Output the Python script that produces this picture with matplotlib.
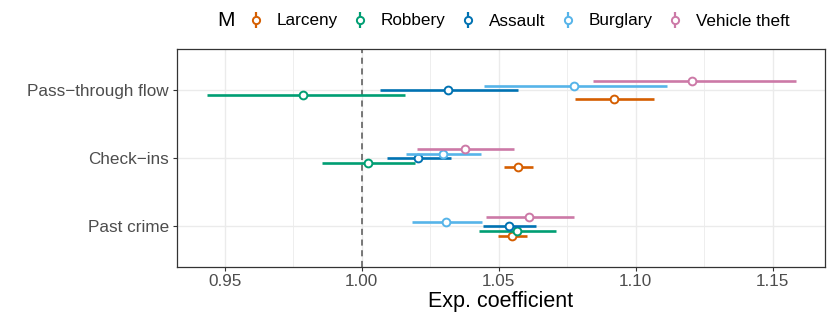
import numpy as np
import matplotlib
matplotlib.use("Agg")
from matplotlib import pyplot as plt
from matplotlib.lines import Line2D
from matplotlib.legend_handler import HandlerTuple

plt.rcParams['font.family'] = ['Liberation Sans', 'DejaVu Sans']

# data
categories = ["Past crime", "Check\u2212ins", "Pass\u2212through flow"]
crimes = ["Larceny", "Robbery", "Assault", "Burglary", "Vehicle theft"]
colors = ["#D55E00", "#009E73", "#0072B2", "#56B4E9", "#CC79A7"]

# estimates per crime, in category order (past crime, check-ins, pass-through)
larceny_est = [1.0550, 1.0570, 1.0920]
larceny_lo = [1.0497, 1.0518, 1.0777]
larceny_hi = [1.0604, 1.0627, 1.1068]

robbery_est = [1.0567, 1.0023, 0.9787]
robbery_lo = [1.0429, 0.9854, 0.9434]
robbery_hi = [1.0710, 1.0195, 1.0158]

assault_est = [1.0538, 1.0207, 1.0314]
assault_lo = [1.0443, 1.0092, 1.0066]
assault_hi = [1.0636, 1.0325, 1.0569]

burglary_est = [1.0308, 1.0296, 1.0774]
burglary_lo = [1.0182, 1.0161, 1.0445]
burglary_hi = [1.0440, 1.0434, 1.1116]

vehicle_est = [1.0612, 1.0376, 1.1205]
vehicle_lo = [1.0452, 1.0201, 1.0843]
vehicle_hi = [1.0774, 1.0556, 1.1584]

est = [larceny_est, robbery_est, assault_est, burglary_est, vehicle_est]
lo = [larceny_lo, robbery_lo, assault_lo, burglary_lo, vehicle_lo]
hi = [larceny_hi, robbery_hi, assault_hi, burglary_hi, vehicle_hi]

W, H = 830, 316
fig = plt.figure(figsize=(W / 100, H / 100), dpi=100)
ax = fig.add_axes([176.7 / W, 1 - 266.7 / H, (825 - 176.7) / W, (266.7 - 49.3) / H])

y = np.arange(1, len(categories) + 1)
dodge = 0.067  # vertical offset between crime types

# grid like theme_bw
for v in np.arange(0.925, 1.176, 0.025):
    major = abs(round(v / 0.05) * 0.05 - v) < 1e-9
    ax.axvline(v, color="#EBEBEB", lw=1.0 if major else 0.6, zorder=0)
for yy in y:
    ax.axhline(yy, color="#EBEBEB", lw=1.0, zorder=0)

ax.axvline(1.0, color="#555555", lw=1.1, ls=(0, (4, 3)), zorder=1)

for i, crime in enumerate(crimes):
    yy = y + (i - 2) * dodge
    ax.hlines(yy, lo[i], hi[i], color=colors[i], lw=1.9, zorder=2 + i)
    ax.plot(est[i], yy, 'o', ms=5.6, mfc='white', mec=colors[i], mew=1.4,
            zorder=2 + i)

ax.set_xlim(0.9325, 1.1691)
ax.set_ylim(0.41, 3.6)
ax.set_yticks(y)
ax.set_yticklabels(categories)
ax.set_xticks([0.95, 1.00, 1.05, 1.10, 1.15])
ax.set_xticklabels(["0.95", "1.00", "1.05", "1.10", "1.15"])
ax.tick_params(colors="#333333", labelcolor="#4D4D4D", labelsize=12.3,
               length=3, width=0.8, pad=2.5)
for s in ax.spines.values():
    s.set_color("#333333")
    s.set_linewidth(0.9)
ax.set_xlabel("Exp. coefficient", fontsize=15.5, color="black", labelpad=1)

# legend on top, vertical pointrange keys
handles = []
for c in colors:
    bar = Line2D([], [], ls='none', marker='|', ms=11, mew=1.6, color=c)
    pt = Line2D([], [], ls='none', marker='o', ms=5.2, mfc='white', mec=c, mew=1.4)
    handles.append((bar, pt))
fig.text(226 / W, 1 - 21 / H, "M", fontsize=15, ha='center', va='center')
fig.legend(handles, crimes, handler_map={tuple: HandlerTuple(ndivide=1)},
           ncol=5, loc='center left', bbox_to_anchor=(249 / W, 1 - 21 / H),
           frameon=False, fontsize=12.3, handlelength=0.8, handletextpad=0.82,
           columnspacing=0.9, borderpad=0, borderaxespad=0, numpoints=1)

fig.savefig("out.png", dpi=100)
